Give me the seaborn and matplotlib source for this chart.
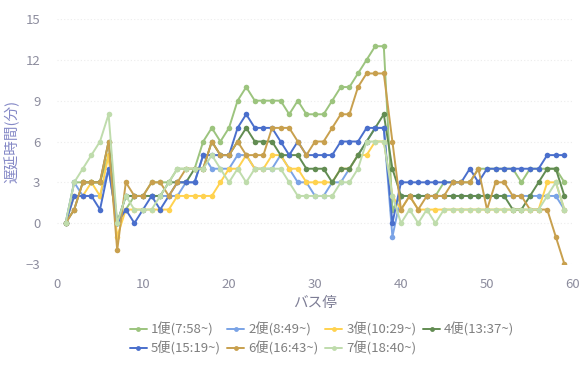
import matplotlib
matplotlib.use("Agg")
import matplotlib.pyplot as plt
from matplotlib.lines import Line2D
import seaborn as sns
import pandas as pd

# ---- data -------------------------------------------------------------
stops = list(range(1, 60))
series_names = ["1便(7:58~)", "2便(8:49~)", "3便(10:29~)", "4便(13:37~)",
                "5便(15:19~)", "6便(16:43~)", "7便(18:40~)"]

bin1 = [0, 3, 3, 3, 3, 5, 0, 1, 2, 2, 3, 3, 3, 4, 4, 4, 6, 7, 6, 7,
        9, 10, 9, 9, 9, 9, 8, 9, 8, 8, 8, 9, 10, 10, 11, 12, 13, 13, 1, 2,
        2, 2, 2, 2, 3, 3, 3, 3, 4, 4, 4, 4, 4, 3, 4, 4, 4, 4, 3]
bin2 = [0, 3, 2, 2, 2, 4, 0, 2, 2, 2, 2, 2, 2, 2, 3, 3, 5, 4, 4, 4,
        5, 5, 4, 4, 4, 5, 4, 3, 3, 2, 2, 3, 3, 4, 5, 6, 7, 7, -1, 2,
        2, 2, 2, 2, 2, 2, 2, 2, 2, 2, 2, 2, 2, 2, 2, 2, 2, 2, 1]
bin3 = [0, 2, 2, 3, 2, 5, -1, 1, 1, 1, 1, 1, 1, 2, 2, 2, 2, 2, 3, 4,
        4, 5, 4, 4, 5, 5, 4, 4, 3, 3, 3, 3, 4, 4, 5, 5, 6, 6, 2, 1,
        2, 1, 1, 1, 1, 1, 1, 1, 1, 1, 1, 1, 1, 1, 1, 1, 3, 3, 1]
bin4 = [0, 1, 3, 3, 3, 6, 0, 2, 2, 2, 2, 2, 3, 3, 3, 4, 4, 6, 5, 5,
        6, 7, 6, 6, 6, 5, 5, 5, 4, 4, 4, 3, 4, 4, 5, 6, 7, 8, 4, 2,
        2, 2, 2, 2, 2, 2, 2, 2, 2, 2, 2, 2, 1, 1, 2, 3, 4, 4, 2]
bin5 = [0, 2, 2, 2, 1, 4, 0, 1, 0, 1, 2, 1, 2, 3, 3, 3, 5, 5, 5, 5,
        7, 8, 7, 7, 7, 6, 5, 6, 5, 5, 5, 5, 6, 6, 6, 7, 7, 7, 0, 3,
        3, 3, 3, 3, 3, 3, 3, 4, 3, 4, 4, 4, 4, 4, 4, 4, 5, 5, 5]
bin6 = [0, 1, 3, 3, 3, 6, -2, 3, 2, 2, 3, 3, 2, 3, 4, 4, 4, 6, 5, 5,
        6, 5, 5, 5, 7, 7, 7, 6, 5, 6, 6, 7, 8, 8, 10, 11, 11, 11, 6, 1,
        2, 1, 2, 2, 2, 3, 3, 3, 4, 1, 3, 3, 2, 2, 1, 1, 1, -1, -3]
bin7 = [0, 3, 4, 5, 6, 8, 0, 2, 1, 1, 1, 2, 3, 4, 4, 4, 4, 5, 4, 3,
        4, 3, 4, 4, 4, 4, 3, 2, 2, 2, 2, 2, 3, 3, 4, 6, 6, 6, 2, 0,
        1, 0, 1, 0, 1, 1, 1, 1, 1, 1, 1, 1, 1, 1, 1, 1, 2, 3, 1]

x_ticks = [0, 10, 20, 30, 40, 50, 60]
y_ticks = [-3, 0, 3, 6, 9, 12, 15]

colors = ["#9cc47e", "#7aa3e6", "#ffd24f", "#628c52",
          "#4a6fcc", "#c8a04e", "#bfdcac"]

# ---- long table -------------------------------------------------------
all_vals = [bin1, bin2, bin3, bin4, bin5, bin6, bin7]
rows = []
for name, vals in zip(series_names, all_vals):
    for s, v in zip(stops, vals):
        rows.append({"stop": s, "delay": v, "series": name})
df = pd.DataFrame(rows)

# ---- plot -------------------------------------------------------------
sns.set_theme(style="white")
plt.rcParams["font.family"] = ["Noto Sans CJK JP", "DejaVu Sans"]

fig = plt.figure(figsize=(5.82, 3.70), dpi=100)
ax = fig.add_axes([57 / 582, 1 - 264 / 370, (573 - 57) / 582, (264 - 19) / 370])

sns.lineplot(data=df, x="stop", y="delay", hue="series", hue_order=series_names,
             palette=colors, marker="o", markersize=4, markeredgewidth=0,
             linewidth=1.4, errorbar=None, legend=False, ax=ax)

ax.set_xlim(0, 60)
ax.set_ylim(-3, 15)
ax.set_xticks(x_ticks)
ax.set_yticks(y_ticks)
for sp in ax.spines.values():
    sp.set_visible(False)
ax.grid(True, axis="y", color="#ececec", linestyle=(0, (1, 2)), linewidth=0.8)
ax.set_axisbelow(True)

tick_col = "#8d8d9e"
ax.tick_params(axis="both", colors=tick_col, labelsize=9.5, length=0)
ax.tick_params(axis="x", pad=10)
ax.tick_params(axis="y", pad=12)

ax.set_xlabel("バス停", color="#7d7d95", fontsize=10.5, labelpad=4)
ax.set_ylabel("遅延時間(分)", color="#8488c6", fontsize=10.5, labelpad=4)

handles = [Line2D([0], [0], color=c, marker="o", markersize=3.5,
                  markeredgewidth=0, linewidth=1.4) for c in colors]
order = [0, 4, 1, 5, 2, 6, 3]
leg = fig.legend([handles[i] for i in order], [series_names[i] for i in order],
                 ncol=4, loc="center", bbox_to_anchor=(322 / 582, 1 - 339 / 370),
                 frameon=False, fontsize=9.5, handlelength=1.3, handletextpad=0.3,
                 columnspacing=0.5, labelspacing=0.35, borderaxespad=0)
for t in leg.get_texts():
    t.set_color("#7f7f7f")

fig.savefig("out.png", dpi=100)
